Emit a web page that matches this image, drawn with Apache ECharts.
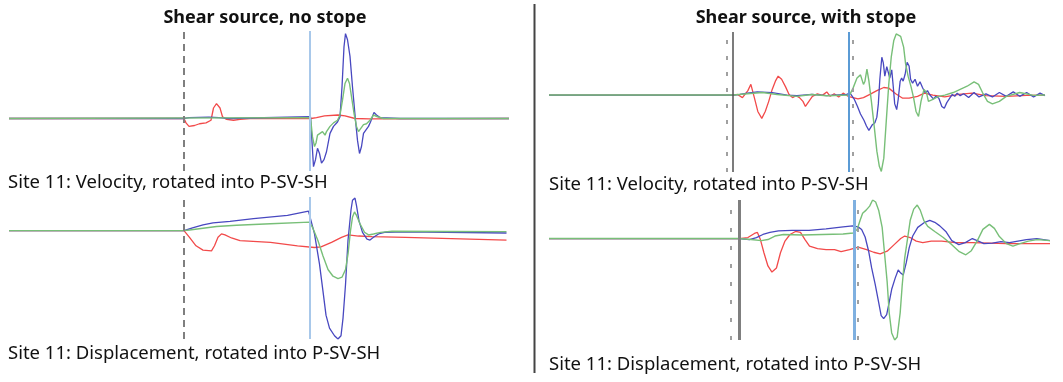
<!DOCTYPE html>
<html>
<head>
<meta charset="utf-8">
<script src="https://cdn.jsdelivr.net/npm/echarts@6/dist/echarts.min.js"></script>
<style>
html,body{margin:0;padding:0;background:#fff;}
#chart{width:1063px;height:382px;}
</style>
</head>
<body>
<div id="chart"></div>
<script>
// ---------- DATA (time in arbitrary units 0..100, amplitude normalised) ----------
const panelTitles = ['Shear source, no stope', 'Shear source, with stope'];
const panelCaptions = [
  'Site 11: Velocity, rotated into P-SV-SH',
  'Site 11: Displacement, rotated into P-SV-SH',
  'Site 11: Velocity, rotated into P-SV-SH',
  'Site 11: Displacement, rotated into P-SV-SH'
];

// Panel A: velocity, no stope
const velNoStopeRed = [[0,0],[35,0],[35.4,-0.05],[36,-0.09],[37.1,-0.08],[38.1,-0.06],[39.4,-0.05],[40.4,-0.02],[40.9,0.12],[41.5,0.17],[42.2,0.12],[42.7,0.02],[43.5,-0.01],[44.9,-0.02],[46.2,-0.01],[48.2,0],[60.4,0],[61.5,0.01],[63.1,0.03],[65.8,0.04],[67.2,0.03],[69.2,0],[72,-0.005],[100,0]];
const velNoStopeBlue = [[0,0],[35,0],[36,0.01],[40,0.015],[42,0.01],[44,0],[60.3,0.02],[60.9,-0.55],[61.3,-0.47],[61.7,-0.34],[62.1,-0.40],[62.5,-0.51],[63.0,-0.47],[63.5,-0.38],[64.2,-0.17],[64.9,-0.09],[65.7,-0.04],[66.2,0.02],[66.6,0.36],[67.0,0.82],[67.3,0.97],[67.7,0.90],[68.2,0.71],[68.7,0.36],[69.3,-0.02],[69.7,-0.25],[70.1,-0.40],[70.5,-0.32],[70.9,-0.17],[71.4,-0.13],[71.9,-0.09],[72.3,-0.04],[73.0,0.07],[73.5,0.04],[74.2,0.01],[78.2,0],[100,0]];
const velNoStopeGreen = [[0,0],[60.3,0.01],[60.7,-0.21],[61.1,-0.32],[61.4,-0.28],[61.7,-0.19],[62.2,-0.17],[62.7,-0.15],[63.2,-0.19],[63.5,-0.15],[64.2,-0.09],[64.9,-0.05],[65.7,-0.02],[66.2,0.04],[66.7,0.21],[67.2,0.40],[67.7,0.46],[68.1,0.40],[68.5,0.25],[69.0,0.06],[69.5,-0.09],[69.9,-0.15],[70.4,-0.11],[70.9,-0.07],[71.5,-0.06],[72.2,-0.02],[72.9,0.04],[73.7,0.02],[74.9,0],[100,0]];

// Panel B: displacement, no stope
const dispNoStopeRed = [[0,0],[35,0],[36.1,-0.062],[37.4,-0.14],[38.8,-0.18],[40.5,-0.187],[41.1,-0.14],[41.8,-0.062],[42.5,-0.03],[43.2,-0.04],[44.5,-0.068],[46.2,-0.093],[52.3,-0.109],[57.7,-0.14],[61.1,-0.156],[62.4,-0.15],[64.5,-0.109],[66.5,-0.062],[67.8,-0.04],[69.9,-0.05],[72.6,-0.056],[79.3,-0.062],[99.5,-0.087]];
const dispNoStopeBlue = [[0,0],[35,0],[36.7,0.025],[38.8,0.053],[40.8,0.072],[44.2,0.085],[48.9,0.11],[55.7,0.14],[59.9,0.18],[60.3,0.17],[61.1,-0.03],[62.1,-0.31],[62.8,-0.56],[63.4,-0.78],[64.1,-0.90],[65.1,-0.97],[65.8,-1.0],[66.4,-0.97],[66.8,-0.81],[67.3,-0.5],[67.8,-0.09],[68.4,0.19],[68.7,0.28],[69.2,0.30],[69.5,0.23],[70.0,0.09],[70.7,-0.016],[71.6,-0.078],[72.2,-0.087],[72.9,-0.062],[73.9,-0.031],[75.3,-0.015],[79.3,-0.012],[99.5,-0.022]];
const dispNoStopeGreen = [[0,0],[35,0],[36.1,0.006],[38.8,0.022],[41.5,0.038],[45.5,0.05],[52.3,0.063],[60.1,0.078],[60.7,0.03],[61.8,-0.093],[62.8,-0.234],[63.8,-0.359],[64.8,-0.421],[65.8,-0.443],[66.6,-0.43],[67.3,-0.359],[67.8,-0.218],[68.3,0],[68.7,0.125],[69.1,0.172],[69.5,0.14],[70.2,0.063],[71.1,-0.015],[71.9,-0.04],[72.9,-0.031],[74.3,-0.016],[76.6,-0.006],[99.5,-0.009]];

// Panel C: velocity, with stope
const velStopeRed = [[0,0],[37.2,0],[38.0,0.01],[39.0,-0.04],[40.1,0.07],[40.7,0.17],[41.4,-0.04],[42.1,-0.26],[42.9,-0.37],[43.6,-0.26],[44.3,-0.10],[45.0,0.09],[45.7,0.23],[46.2,0.30],[46.9,0.25],[47.7,0.13],[48.4,0.01],[49.1,-0.04],[49.8,-0.01],[50.5,-0.04],[51.2,-0.10],[51.7,-0.18],[52.4,-0.10],[53.1,-0.02],[54.1,0.02],[55.1,-0.005],[56.0,0.05],[56.7,-0.02],[57.5,0.02],[58.4,-0.03],[59.3,0.03],[60.3,-0.02],[61.3,-0.04],[62.3,-0.06],[63.4,-0.04],[64.7,0.01],[66.1,0.07],[67.5,0.12],[68.5,0.11],[69.9,0.02],[71.3,-0.05],[72.6,-0.05],[74.3,-0.02],[75.7,0.03],[77.4,0],[79.8,-0.03],[82.6,0.01],[85.3,0.03],[88.1,-0.01],[92.2,-0.02],[96.3,-0.005],[100,0]];
const velStopeBlue = [[0,0],[37.2,0],[38.5,0.01],[40,0.03],[42,0.05],[45,0.04],[48,0],[50,-0.01],[53,0.01],[56,-0.01],[60,0.01],[60.7,0.03],[61.5,-0.06],[62.2,-0.18],[62.8,-0.30],[63.5,-0.40],[64.0,-0.49],[64.5,-0.56],[64.9,-0.54],[65.2,-0.47],[65.7,-0.44],[66.1,-0.35],[66.4,-0.14],[66.7,0.25],[67.1,0.60],[67.4,0.51],[67.7,0.30],[68.1,0.45],[68.4,0.43],[68.7,0.27],[69.1,0.40],[69.4,0.14],[69.7,-0.14],[70.1,-0.23],[70.4,-0.07],[70.8,0.22],[71.1,0.27],[71.4,0.22],[71.8,0.33],[72.2,0.52],[72.6,0.46],[72.9,0.25],[73.3,0.19],[73.8,0.25],[74.3,0.14],[74.8,0.21],[75.3,0.12],[75.8,0.04],[76.3,0.07],[76.8,0],[77.5,-0.06],[78.0,-0.02],[78.6,-0.05],[79.2,-0.18],[79.7,-0.21],[80.2,-0.12],[80.7,-0.06],[81.3,0.01],[81.8,-0.02],[82.3,0.03],[82.9,-0.01],[83.6,0.02],[84.6,-0.04],[85.7,0.04],[86.7,-0.03],[88.1,0.02],[89.4,-0.03],[90.8,0.04],[92.2,-0.02],[93.6,0.05],[94.9,-0.02],[96.3,0.04],[97.7,-0.03],[99.0,0.03],[100,-0.01]];
const velStopeGreen = [[0,0],[37.2,0],[40,0.02],[43,0.04],[46,0.01],[50,-0.02],[53,0.01],[56,-0.01],[60.6,0],[61.3,0.11],[62.1,0.27],[62.8,0.32],[63.4,0.17],[63.7,0.22],[64.1,0.41],[64.5,0.22],[65.0,-0.10],[65.6,-0.52],[66.1,-0.89],[66.6,-1.13],[67.0,-1.21],[67.5,-1.0],[68.0,-0.41],[68.5,0.17],[69.0,0.60],[69.5,0.86],[70.0,0.97],[70.4,0.99],[70.9,0.93],[71.5,0.76],[71.9,0.49],[72.4,0.30],[73.0,0.13],[73.5,-0.04],[74.0,-0.26],[74.5,-0.34],[75.0,-0.10],[75.6,0.09],[76.1,0.04],[76.5,-0.10],[77.4,-0.07],[78.5,-0.02],[79.8,0],[81.5,0.04],[82.9,0.09],[84.3,0.14],[85.7,0.21],[86.6,0.17],[87.4,0.04],[88.4,-0.10],[89.4,-0.14],[90.8,-0.10],[92.2,-0.02],[94.9,0.04],[97.7,-0.005],[100,0]];

// Panel D: displacement, with stope
const dispStopeRed = [[0,0],[37.9,0],[39.7,0.01],[41.0,0.05],[41.6,0.06],[42.2,-0.01],[42.9,-0.14],[43.7,-0.27],[44.5,-0.33],[45.4,-0.29],[46.2,-0.14],[47.1,-0.025],[48.1,0.04],[49.2,0.07],[50.2,0.06],[51.1,-0.01],[52.0,-0.075],[53.6,-0.1],[55.3,-0.11],[57.0,-0.11],[58.3,-0.13],[60.0,-0.11],[61.7,-0.085],[63.4,-0.11],[64.8,-0.135],[66.1,-0.15],[67.5,-0.125],[68.9,-0.06],[70.2,0],[71.0,0.025],[72.1,0.01],[73.3,-0.025],[74.6,-0.04],[76.3,-0.025],[78.4,-0.025],[81.1,-0.04],[84.5,-0.04],[91.3,-0.05],[100,-0.05]];
const dispStopeBlue = [[0,0],[37.9,0],[40.0,-0.01],[41.4,0.01],[42.7,0.04],[44.1,0.06],[45.8,0.075],[48.5,0.08],[51.9,0.08],[55.3,0.095],[58.7,0.115],[60.6,0.125],[61.7,0.115],[62.4,0.09],[63.1,0.015],[63.8,-0.125],[64.4,-0.29],[65.1,-0.45],[65.8,-0.63],[66.3,-0.76],[66.8,-0.79],[67.4,-0.75],[67.9,-0.63],[68.4,-0.50],[69.1,-0.39],[69.7,-0.31],[70.2,-0.34],[70.7,-0.36],[71.3,-0.24],[71.9,-0.09],[72.6,0.025],[73.6,0.11],[75.0,0.16],[76.0,0.18],[77.0,0.16],[78.0,0.125],[79.2,0.07],[80.4,-0.02],[81.8,-0.06],[83.1,-0.04],[84.5,0],[85.7,-0.025],[86.8,-0.05],[88.5,-0.045],[90.2,-0.03],[91.9,-0.04],[93.6,-0.025],[95.3,-0.01],[97.4,0],[100,-0.02]];
const dispStopeGreen = [[0,0],[37.9,0],[40.3,-0.01],[42.4,-0.02],[43.7,-0.01],[45.1,0.025],[46.8,0.04],[50.5,0.035],[54.6,0.04],[58.7,0.045],[60.7,0.055],[61.5,0.09],[62.1,0.18],[62.6,0.25],[63.3,0.28],[64.0,0.32],[64.6,0.38],[65.2,0.36],[65.8,0.28],[66.5,0.11],[67.0,-0.16],[67.5,-0.43],[67.9,-0.73],[68.4,-0.93],[69.0,-1.0],[69.5,-0.97],[70.1,-0.73],[70.5,-0.46],[71.0,-0.19],[71.6,0.01],[72.1,0.18],[72.8,0.29],[73.5,0.33],[74.1,0.28],[74.8,0.18],[75.6,0.12],[77.0,0.07],[78.7,0.01],[80.4,-0.06],[81.9,-0.13],[83.2,-0.16],[84.3,-0.12],[85.5,-0.02],[86.6,0.09],[87.9,0.14],[88.9,0.10],[89.9,0.02],[91.3,-0.05],[92.6,-0.075],[94.0,-0.05],[95.7,-0.025],[97.4,-0.01],[100,-0.02]];

// Marker times (arrival picks)
const markersNoStopeVel = [35, 60.2];
const markersNoStopeDisp = [35, 60.2];
const markersStopeVel = [35.9, 37.1, 60.5, 61.3];
const markersStopeDisp = [36.3, 37.9, 60.9, 61.7];

// ---------- CHART ----------
const RED = '#f24a4a', GREEN = '#78bf78', BLUE = '#4848c0';
const FONT = 'Noto Sans';

const panels = [
  { red: velNoStopeRed, green: velNoStopeGreen, blue: velNoStopeBlue, marks: markersNoStopeVel,
    grid: {left: 9, top: 31, width: 500, height: 140}, ymin: -0.6, ymax: 1.0,
    mstyle: [{color:'#7f7f7f', width:2, type:[7,5]}, {color:'#a8c8ea', width:2, type:'solid'}] },
  { red: dispNoStopeRed, green: dispNoStopeGreen, blue: dispNoStopeBlue, marks: markersNoStopeDisp,
    grid: {left: 9, top: 197, width: 500, height: 142}, ymin: -1.0, ymax: 0.31,
    mstyle: [{color:'#7f7f7f', width:2, type:[7,5]}, {color:'#a8c8ea', width:2, type:'solid'}] },
  { red: velStopeRed, green: velStopeGreen, blue: velStopeBlue, marks: markersStopeVel,
    grid: {left: 549, top: 32, width: 496, height: 140}, ymin: -1.22, ymax: 1.0,
    mstyle: [{color:'#a0a0a0', width:2, type:[4,12]}, {color:'#505050', width:1.5, type:'solid'},
             {color:'#5b9bd5', width:2, type:'solid'}, {color:'#a0a0a0', width:2, type:[4,12]}] },
  { red: dispStopeRed, green: dispStopeGreen, blue: dispStopeBlue, marks: markersStopeDisp,
    grid: {left: 549, top: 200, width: 501, height: 140}, ymin: -1.0, ymax: 0.38,
    mstyle: [{color:'#a0a0a0', width:2, type:[4,14]}, {color:'#7f7f7f', width:3, type:'solid'},
             {color:'#7fb0e0', width:3, type:'solid'}, {color:'#a0a0a0', width:2, type:[4,14]}] }
];

const grids = [], xAxes = [], yAxes = [], series = [];
panels.forEach((p, i) => {
  grids.push(Object.assign({containLabel: false}, p.grid));
  xAxes.push({type: 'value', gridIndex: i, min: 0, max: 100, show: false});
  yAxes.push({type: 'value', gridIndex: i, min: p.ymin, max: p.ymax, show: false});
  const base = {type: 'line', xAxisIndex: i, yAxisIndex: i, showSymbol: false, symbol: 'none', animation: false, silent: true};
  series.push(Object.assign({}, base, {
    name: 'marks' + i, data: [],
    markLine: {
      symbol: ['none', 'none'], silent: true, animation: false, label: {show: false},
      data: p.marks.map((t, k) => ({xAxis: t, lineStyle: p.mstyle[k]}))
    }
  }));
  series.push(Object.assign({}, base, {name: 'SH' + i, data: p.red, lineStyle: {color: RED, width: 1.3}}));
  series.push(Object.assign({}, base, {name: 'SV' + i, data: p.blue, lineStyle: {color: BLUE, width: 1.3}}));
  series.push(Object.assign({}, base, {name: 'P' + i, data: p.green, lineStyle: {color: GREEN, width: 1.4}}));
});

const capStyle = {fontSize: 18.5, fontWeight: 'normal', color: '#111', fontFamily: FONT};
const titleStyle = {fontSize: 18, fontWeight: 'bold', color: '#111', fontFamily: FONT};
const titles = [
  {text: panelTitles[0], left: 265, top: 9, textAlign: 'center', padding: 0, textStyle: titleStyle},
  {text: panelTitles[1], left: 806, top: 9, textAlign: 'center', padding: 0, textStyle: titleStyle},
  {text: panelCaptions[0], left: 8, top: 173, padding: 0, textStyle: capStyle},
  {text: panelCaptions[1], left: 8, top: 344, padding: 0, textStyle: capStyle},
  {text: panelCaptions[2], left: 549, top: 175, padding: 0, textStyle: capStyle},
  {text: panelCaptions[3], left: 549, top: 355, padding: 0, textStyle: capStyle}
];

const chart = echarts.init(document.getElementById('chart'), null, {renderer: 'canvas'});
chart.setOption({
  backgroundColor: '#ffffff',
  animation: false,
  title: titles,
  grid: grids,
  xAxis: xAxes,
  yAxis: yAxes,
  series: series,
  graphic: [{
    type: 'line', silent: true,
    shape: {x1: 534.5, y1: 4, x2: 534.5, y2: 373},
    style: {stroke: '#444', lineWidth: 2}
  }]
});
</script>
</body>
</html>
